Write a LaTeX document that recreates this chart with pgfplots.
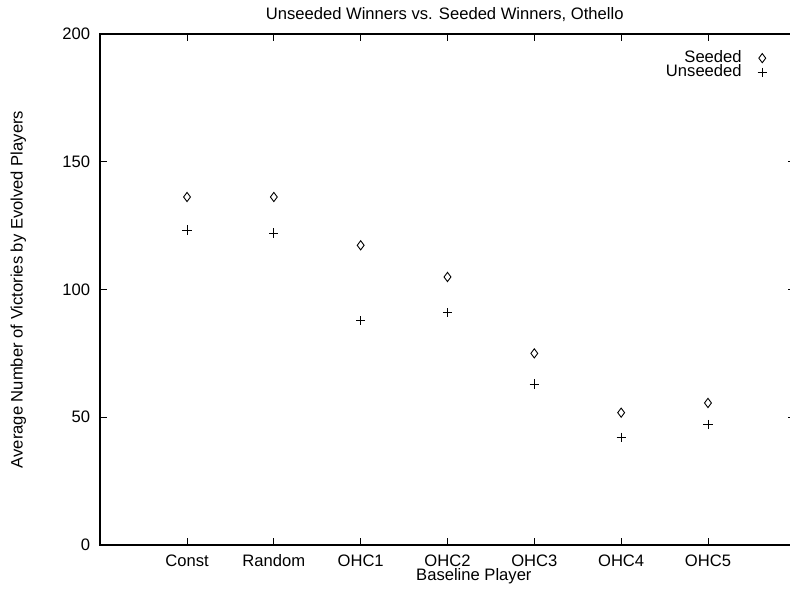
\documentclass[border=0pt]{standalone}
\usepackage{fontspec}
\setmainfont{Liberation Sans}
\usepackage{pgfplots}
\pgfplotsset{compat=1.18}
\begin{document}
\begin{tikzpicture}
\begin{axis}[
  at={(0,0)}, anchor=south west,
  scale only axis, width=347.3pt, height=255.5pt,
  xmin=0, xmax=8, ymin=0, ymax=200,
  xtick={1,2,3,4,5,6,7},
  xticklabels={Const,Random,OHC1,OHC2,OHC3,OHC4,OHC5},
  ytick={0,50,100,150,200},
  tick align=inside,
  major tick length=3.5pt,
  axis line style={line width=0.7pt},
  every tick/.style={black, line width=0.4pt},
  /pgf/number format/assume math mode=true,
  font=\fontsize{8.3}{10}\selectfont,
  ticklabel style={font=\fontsize{8.3}{10}\selectfont},
  xticklabel style={anchor=north, text height=6pt, text depth=1.5pt, yshift=-1pt},
  yticklabel style={xshift=-1.5pt},
  xlabel={Baseline Player},
  xlabel style={at={(axis description cs:0.538,-0.0607)}, anchor=center},
  ylabel={Average Number of Victories by Evolved Players},
  ylabel style={at={(axis description cs:-0.118,0.5)}, anchor=center},
  legend style={draw=none, fill=none, at={(axis cs:7.706,196)}, anchor=north east,
    legend cell align=right, font=\fontsize{8.3}{10}\selectfont,
    row sep=-4.5pt, inner sep=1pt},
  legend plot pos=right,
  clip=false,
]
\addplot[only marks, mark=diamond, mark size=2.3pt, black, line width=0.45pt]
  coordinates {(1,136.2) (2,136.2) (3,117.3) (4,104.9) (5,75.0) (6,51.8) (7,55.6)};
\addlegendentry{Seeded\rule{6pt}{0pt}}
\addplot[only marks, mark=+, mark size=2.3pt, black, line width=0.45pt]
  coordinates {(1,123.3) (2,122.1) (3,87.8) (4,90.9) (5,63.0) (6,42.2) (7,47.2)};
\addlegendentry{Unseeded\rule{6pt}{0pt}}
\node[font=\fontsize{8.3}{10}\selectfont, anchor=center] at (axis description cs:0.496,1.039) {Unseeded Winners vs. Seeded Winners, Othello};
\end{axis}
\pgfresetboundingbox
\useasboundingbox (-50.1pt,-22.5pt) rectangle (344.9pt,272.5pt);
\end{tikzpicture}
\end{document}
